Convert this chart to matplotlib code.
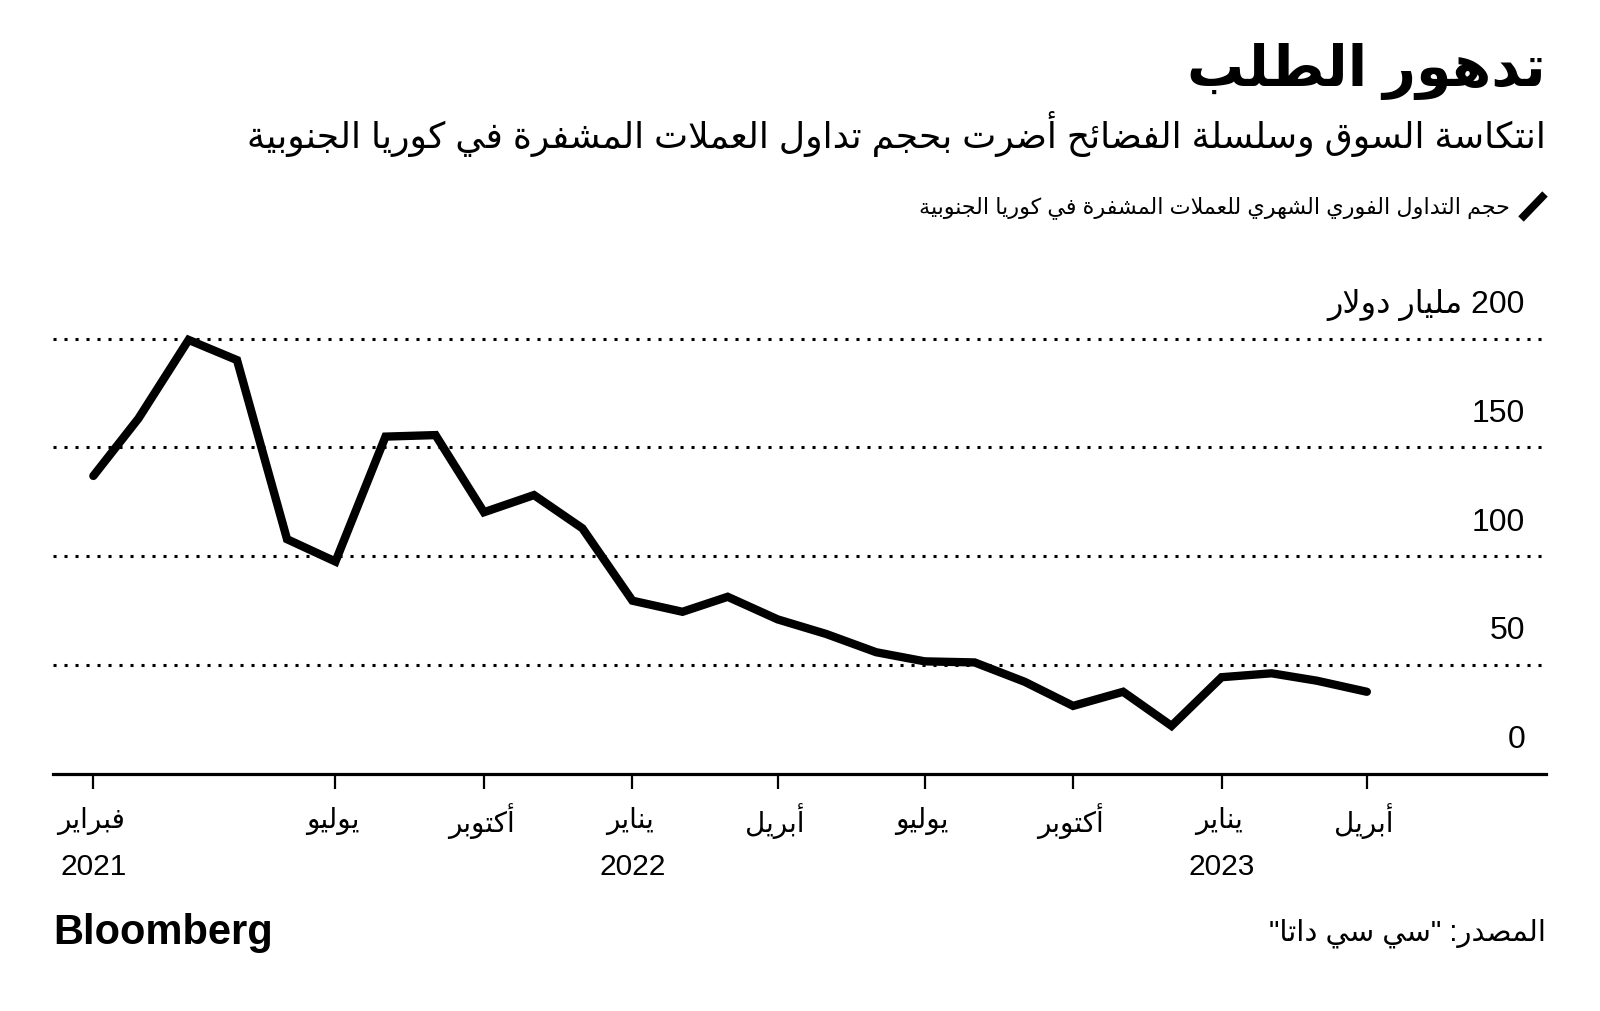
import re
import matplotlib
matplotlib.use("Agg")
import matplotlib.pyplot as plt
import matplotlib.transforms as mtransforms
from matplotlib.lines import Line2D
import pandas as pd

# monthly spot trading volume, billions of dollars (Feb 2021 - Apr 2023)
months = pd.date_range("2021-02-01", periods=27, freq="MS")
volume = [136.9, 163.4, 199.5, 190.2, 107.8, 97.5, 155.0, 155.7, 120.2, 128.1,
          112.8, 79.5, 74.4, 81.3, 70.9, 64.2, 55.8, 51.6, 51.1, 42.2,
          31.1, 37.6, 21.9, 44.3, 46.1, 42.7, 37.6]

tick_dates = ["2021-02-01", "2021-07-01", "2021-10-01", "2022-01-01", "2022-04-01",
              "2022-07-01", "2022-10-01", "2023-01-01", "2023-04-01"]
tick_months = ["فبراير", "يوليو", "أكتوبر", "يناير", "أبريل",
               "يوليو", "أكتوبر", "يناير", "أبريل"]
tick_years = ["2021", "", "", "2022", "", "", "", "2023", ""]

y_ticks = [0, 50, 100, 150, 200]
y_labels = ["0", "50", "100", "150", "200 مليار دولار"]

title = "تدهور الطلب"
subtitle = "انتكاسة السوق وسلسلة الفضائح أضرت بحجم تداول العملات المشفرة في كوريا الجنوبية"
legend_label = "حجم التداول الفوري الشهري للعملات المشفرة في كوريا الجنوبية"
source = 'المصدر: "سي سي داتا"'


# matplotlib has no arabic shaping, so do it by hand with presentation forms
AR = {
    'ء': (0xFE80, 1), 'آ': (0xFE81, 2), 'أ': (0xFE83, 2), 'ؤ': (0xFE85, 2), 'إ': (0xFE87, 2),
    'ئ': (0xFE89, 4), 'ا': (0xFE8D, 2), 'ب': (0xFE8F, 4), 'ة': (0xFE93, 2), 'ت': (0xFE95, 4),
    'ث': (0xFE99, 4), 'ج': (0xFE9D, 4), 'ح': (0xFEA1, 4), 'خ': (0xFEA5, 4), 'د': (0xFEA9, 2),
    'ذ': (0xFEAB, 2), 'ر': (0xFEAD, 2), 'ز': (0xFEAF, 2), 'س': (0xFEB1, 4), 'ش': (0xFEB5, 4),
    'ص': (0xFEB9, 4), 'ض': (0xFEBD, 4), 'ط': (0xFEC1, 4), 'ظ': (0xFEC5, 4), 'ع': (0xFEC9, 4),
    'غ': (0xFECD, 4), 'ف': (0xFED1, 4), 'ق': (0xFED5, 4), 'ك': (0xFED9, 4), 'ل': (0xFEDD, 4),
    'م': (0xFEE1, 4), 'ن': (0xFEE5, 4), 'ه': (0xFEE9, 4), 'و': (0xFEED, 2), 'ى': (0xFEEF, 2),
    'ي': (0xFEF1, 4),
}
LAM_ALEF = {'آ': 0xFEF5, 'أ': 0xFEF7, 'إ': 0xFEF9, 'ا': 0xFEFB}


def joins(c):
    return c in AR and AR[c][1] != 1


def ar(text):
    out = []
    prev_joins = False
    i = 0
    while i < len(text):
        c = text[i]
        if c not in AR:
            out.append(c)
            prev_joins = False
            i += 1
            continue
        nxt = text[i + 1] if i + 1 < len(text) else ""
        if c == 'ل' and nxt in LAM_ALEF:
            out.append(chr(LAM_ALEF[nxt] + (1 if prev_joins else 0)))
            prev_joins = False
            i += 2
            continue
        base, kind = AR[c]
        if kind == 1:
            form = 0
        else:
            next_joins = kind == 4 and joins(nxt)
            if prev_joins and next_joins:
                form = 3
            elif next_joins:
                form = 2
            elif prev_joins:
                form = 1
            else:
                form = 0
        out.append(chr(base + form))
        prev_joins = kind == 4
        i += 1
    vis = "".join(reversed(out))
    # numbers stay left to right
    return re.sub(r"[0-9A-Za-z.,]+", lambda m: m.group(0)[::-1], vis)


plt.rcParams['font.family'] = ['Liberation Sans', 'DejaVu Sans']

W, H = 1600, 1011
fig = plt.figure(figsize=(W / 100, H / 100), dpi=100)


def fx(px):
    return px / W


def fy(py):
    return 1 - py / H


ax = fig.add_axes([fx(53), fy(773.5), fx(1546 - 53), (773.5 - 338.8) / H])

ax.plot(months, volume, color='black', lw=6, solid_capstyle='round',
        solid_joinstyle='miter', clip_on=False, zorder=3)

for v in y_ticks[1:]:
    ax.axhline(v, color='black', lw=2.2, linestyle=(0, (1, 2.6)), clip_on=False, zorder=1)

ax.set_xlim(pd.Timestamp("2021-01-07"), pd.Timestamp("2023-07-21"))
ax.set_ylim(0, 200)

for s in ['top', 'right', 'left']:
    ax.spines[s].set_visible(False)
ax.spines['bottom'].set_linewidth(2.3)
ax.set_yticks([])
ax.set_xticks(pd.to_datetime(tick_dates))
ax.set_xticklabels([])
ax.tick_params(axis='x', direction='out', length=11, width=1.6, color='black')

blend = mtransforms.blended_transform_factory(ax.transAxes, ax.transData)
for v, lab in zip(y_ticks, y_labels):
    ax.annotate(ar(lab), xy=(0.986, v), xycoords=blend, xytext=(0, 24),
                textcoords='offset points', ha='right', va='center', fontsize=23)

for d, m, yr in zip(pd.to_datetime(tick_dates), tick_months, tick_years):
    ax.annotate(ar(m), xy=(d, 0), xycoords=('data', 'axes fraction'), xytext=(-2, -34.5),
                textcoords='offset points', ha='center', va='center', fontsize=20)
    if yr:
        ax.annotate(yr, xy=(d, 0), xycoords=('data', 'axes fraction'), xytext=(0, -67),
                    textcoords='offset points', ha='center', va='center', fontsize=21.5)

fig.text(fx(1546), fy(71), ar(title), ha='right', va='center', fontsize=41, fontweight='bold')
fig.text(fx(1546), fy(134), ar(subtitle), ha='right', va='center', fontsize=26)

fig.add_artist(Line2D([fx(1521), fx(1545)], [fy(219), fy(194)], transform=fig.transFigure,
                      color='black', lw=5.5, solid_capstyle='butt'))
fig.text(fx(1510), fy(208), ar(legend_label), ha='right', va='center', fontsize=16)

fig.text(fx(53), fy(933), "Bloomberg", ha='left', va='center', fontsize=30, fontweight='bold')
fig.text(fx(1546), fy(933), ar(source), ha='right', va='center', fontsize=21)

fig.savefig("out.png", dpi=100, facecolor='white')
